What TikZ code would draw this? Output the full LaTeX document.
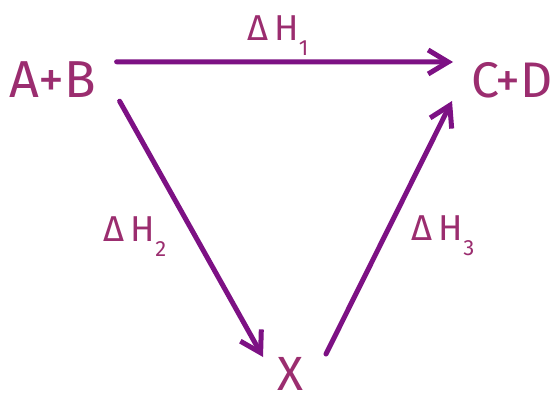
\documentclass[tikz,border=0pt]{standalone}
\usepackage{fontspec}
\setmainfont{Fira Sans}
\usepackage{tikz}
\usetikzlibrary{arrows.meta, positioning}

\definecolor{chemtext}{HTML}{9B2D6F}
\definecolor{chemarrow}{HTML}{7D1184}

\newcommand{\dH}[1]{Δ\,H\raisebox{-15pt}{\fontsize{22}{22}\selectfont #1}}

\begin{document}
\begin{tikzpicture}[
  x=1pt, y=-1pt,
  >={Straight Barb[length=20pt, width=24pt, line width=5pt]},
  species/.style={inner sep=0pt, text=chemtext},
  enthalpy/.style={inner sep=0pt, text=chemtext, font=\fontsize{36}{36}\selectfont},
  arr/.style={->, draw=chemarrow, line width=5pt, line cap=round, line join=round}
]
  \clip (0,0) rectangle (556,406);
  \fill[white] (0,0) rectangle (556,406);
  % reactants, products, intermediate
  \node[species, minimum width=84pt, minimum height=40pt, font=\fontsize{52}{52}\selectfont] (ab) at (53,80) {A+B};
  \node[species, font=\fontsize{50}{50}\selectfont, anchor=west] (cd) at (471,80) {C+D};
  \node[species, font=\fontsize{48}{48}\selectfont] (x) at (290,374) {X};
  % enthalpy labels
  \node[enthalpy] (h1) at (278,36) {\dH{1}};
  \node[enthalpy] (h2) at (135,237) {\dH{2}};
  \node[enthalpy] (h3) at (443,236) {\dH{3}};
  % arrows
  \draw[arr] ([shift={(20,2)}]ab.north east) -- ([shift={(-18,-18)}]cd.west);
  \draw[arr] ([shift={(23,1)}]ab.south east) -- ([shift={(-27,-17)}]x.center);
  \draw[arr] ([shift={(36,-20)}]x.center) -- ([shift={(-19,21)}]cd.west);
\end{tikzpicture}
\end{document}
